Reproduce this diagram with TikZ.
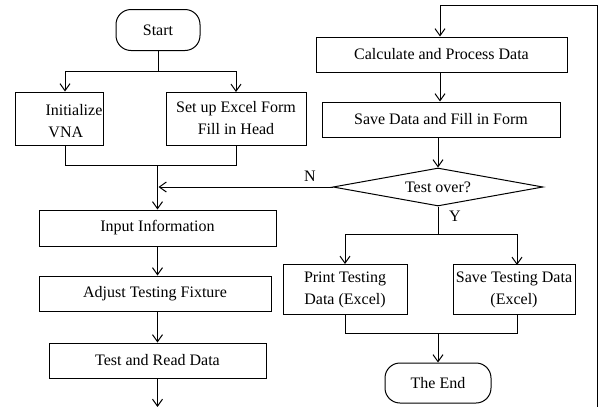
\documentclass[tikz,border=0pt]{standalone}
\usepackage{fontspec}
\setmainfont{Liberation Serif}
\usetikzlibrary{arrows.meta,shapes.geometric}
\begin{document}
\begin{tikzpicture}[x=1pt,y=-1pt,line width=1pt,
  font=\fontsize{16}{22}\selectfont,
  box/.style={draw,inner sep=0pt,align=center},
  term/.style={draw,inner sep=0pt,rounded corners=15pt},
  dec/.style={draw,diamond,inner sep=0pt,shape aspect=5.5,minimum width=210pt,minimum height=38pt},
  arr/.style={-{Straight Barb[length=7pt,width=10pt,line width=1pt]}},
  lbl/.style={inner sep=0pt}]
\useasboundingbox (0,0) rectangle (603,407);

\node[term,minimum width=84pt,minimum height=41pt] (start) at (158,30) {Start};
\node[box,minimum width=88pt,minimum height=53pt] (init) at (59,118.5) {};
\node[lbl,anchor=west] (initA) at (45,110) {Initialize};
\node[lbl,anchor=west] (initB) at (48,132) {VNA};
\node[box,minimum width=140pt,minimum height=53pt] (setup) at (236,118.5) {Set up Excel Form\\Fill in Head};
\node[box,minimum width=237pt,minimum height=36pt] (input) at (157.5,228) {Input Information};
\node[box,minimum width=232pt,minimum height=35pt] (adjust) at (155,293.5) {Adjust Testing Fixture};
\node[box,minimum width=217pt,minimum height=35pt] (testread) at (157.5,360.5) {Test and Read Data};

\node[box,minimum width=251pt,minimum height=35pt] (calc) at (441.5,54.5) {Calculate and Process Data};
\node[box,minimum width=238pt,minimum height=35pt] (save) at (441,119.5) {Save Data and Fill in Form};
\node[dec] (over) at (438,187) {Test over?};
\node[box,minimum width=124pt,minimum height=50pt] (print) at (345,289.5) {Print Testing\\Data (Excel)};
\node[box,minimum width=122pt,minimum height=50pt] (savet) at (514,289.5) {Save Testing Data\\(Excel)};
\node[term,minimum width=106pt,minimum height=40pt] (end) at (438,383) {The End};

\node[lbl] (N) at (310,176) {N};
\node[lbl] (Y) at (455,216) {Y};

\coordinate (bot) at (157.5,407);
\coordinate (rb) at (597.5,407);
\coordinate (rt) at (597.5,5);
\coordinate (lt) at (440,5);

% top split
\draw (start.south) -- (158,71);
\draw[arr] (158,71) -| (init.north -| 65,0);
\draw[arr] (158,71) -| (236,92);
\draw (65,145) |- (157.5,165);
\draw (setup.south) |- (157.5,165);
\draw[arr] (157.5,165) -- (input.north -| 157.5,0);
\draw[arr] (over.west) -- (158.5,187);

\draw[arr] (input.south -| 157.5,0) -- (adjust.north -| 157.5,0);
\draw[arr] (adjust.south -| 157.5,0) -- (testread.north);
\draw[arr] (testread.south) -- (bot);

\draw (rb) -- (rt) -- (lt);
\draw[arr] (lt) -- (calc.north -| lt);
\draw[arr] (calc.south -| lt) -- (save.north -| lt);
\draw[arr] (save.south -| over.north) -- (over.north);
\draw[arr] (over.south) -- (438,234) -| (print.north);
\draw[arr] (438,234) -| (517,265);
\draw (print.south) |- (438,333);
\draw (517,314.5) |- (438,333);
\draw[arr] (438,333) -- (end.north);
\end{tikzpicture}
\end{document}
